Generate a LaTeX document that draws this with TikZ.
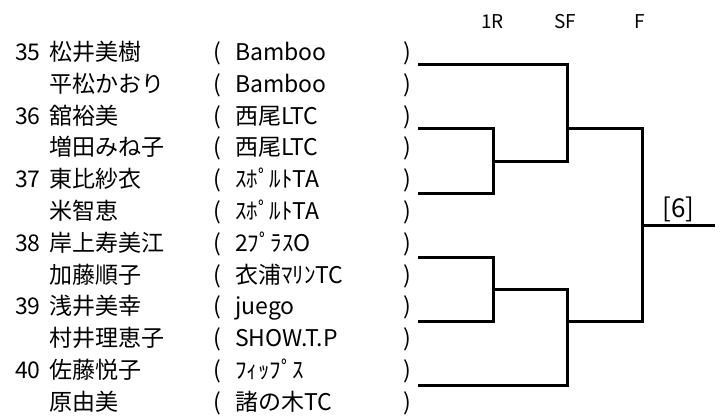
\documentclass[tikz,border=0pt]{standalone}
\usepackage{fontspec}
\newfontfamily\jpfont{Noto Sans CJK JP}
\usetikzlibrary{calc}
\tikzset{
  entry/.style={font=\jpfont\fontsize{23}{23}\selectfont, anchor=base west, inner sep=0pt},
  round/.style={font=\jpfont\fontsize{19}{19}\selectfont, inner sep=0pt},
  bk/.style={line width=3pt}
}

\begin{document}
\begin{tikzpicture}[x=1pt,y=-1pt]
  \useasboundingbox (0,0) rectangle (728,417);
  \xdef\rh{31.8}
  \xdef\bl{60.5}
  % round headers
  \node[round] (h1) at (492.5,21.5) {1R};
  \node[round] (h2) at (565,21.5) {SF};
  \node[round] (h3) at (640,21.5) {F};
  % players
  \foreach \i/\nm/\tm in {1/松井美樹/Bamboo, 2/平松かおり/Bamboo, 3/舘裕美/西尾LTC,
      4/増田みね子/西尾LTC, 5/東比紗衣/ｽﾎﾟﾙﾄTA, 6/米智恵/ｽﾎﾟﾙﾄTA,
      7/岸上寿美江/2ﾌﾟﾗｽO, 8/加藤順子/衣浦ﾏﾘﾝTC, 9/浅井美幸/juego,
      10/村井理恵子/SHOW.T.P, 11/佐藤悦子/ﾌｨｯﾌﾟｽ, 12/原由美/諸の木TC}{
    \node[entry] (n\i) at (49,{\bl+\rh*(\i-1)}) {\nm};
    \node[entry] (l\i) at (213,{\bl+\rh*(\i-1)}) {(};
    \node[entry] (t\i) at (235,{\bl+\rh*(\i-1)}) {\tm};
    \node[entry] (r\i) at (403,{\bl+\rh*(\i-1)}) {)};
  }
  \foreach \i/\s in {1/35, 3/36, 5/37, 7/38, 9/39, 11/40}{
    \node[entry] (s\i) at (15,{\bl+\rh*(\i-1)}) {\s};
  }
  % bracket
  \coordinate (c1) at (493,0);
  \coordinate (c2) at (567,0);
  \coordinate (c3) at (642,0);
  \foreach \k in {1,...,6}{
    \coordinate (e\k) at (418,{65+64*(\k-1)});
  }
  \draw[bk] (e2) -- (e2 -| c1) -- (e3 -| c1) -- (e3);
  \draw[bk] (e4) -- (e4 -| c1) -- (e5 -| c1) -- (e5);
  \coordinate (w1) at ($(e2 -| c1)!.5!(e3 -| c1)$);
  \coordinate (w2) at ($(e4 -| c1)!.5!(e5 -| c1)$);
  \draw[bk] (e1) -- (e1 -| c2) -- (w1 -| c2) -- (w1);
  \draw[bk] (e6) -- (e6 -| c2) -- (w2 -| c2) -- (w2);
  \draw[bk] (e2 -| c2) -- (e2 -| c3) -- (e5 -| c3) -- (e5 -| c2);
  \coordinate (w3) at ($(e2 -| c3)!.5!(e5 -| c3)$);
  \draw[bk] (w3) -- ++(73,0) coordinate (fin);
  \node[entry, anchor=center, font=\jpfont\fontsize{26}{26}\selectfont] (res) at (678.5,209) {[6]};
\end{tikzpicture}
\end{document}
